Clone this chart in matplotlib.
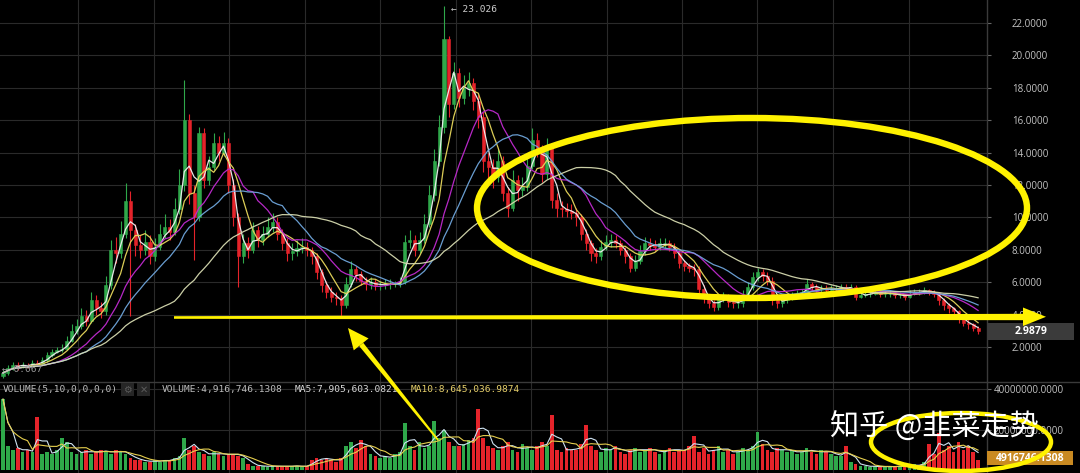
import numpy as np
import pandas as pd
import matplotlib
matplotlib.use("Agg")
import matplotlib.pyplot as plt
from matplotlib.patches import Ellipse, Polygon, Rectangle
from matplotlib.transforms import Affine2D

W, H, DPI = 1080, 473, 100

# ---------------- data ----------------
first_open = 0.2
closes = [0.4, 0.7, 0.9, 0.8, 0.9, 0.85, 1.0, 0.95, 1.2, 1.5,
          1.7, 1.8, 1.9, 2.4, 3.0, 3.3, 3.9, 3.6, 4.9, 4.4,
          4.2, 5.8, 8.0, 7.8, 9.0, 11.0, 9.2, 8.3, 8.0, 8.5,
          7.6, 8.2, 9.0, 9.4, 9.1, 10.5, 12.0, 16.0, 11.5, 10.0,
          15.2, 12.3, 13.1, 14.6, 14.0, 14.6, 12.0, 10.0, 7.6, 8.4,
          8.0, 9.2, 8.6, 9.0, 9.4, 9.7, 9.0, 8.4, 7.8, 7.9,
          8.1, 8.2, 8.0, 7.6, 6.6, 5.8, 5.4, 5.1, 5.0, 4.6,
          5.9, 6.8, 6.5, 6.1, 5.9, 6.0, 5.8, 5.8, 5.9, 5.9,
          5.9, 6.0, 8.5, 8.6, 8.0, 8.6, 9.6, 11.4, 13.5, 15.6,
          21.0, 17.0, 18.9, 17.4, 18.0, 18.3, 17.2, 16.2, 13.5, 13.1,
          12.5, 13.5, 11.5, 10.6, 12.3, 11.7, 11.9, 13.2, 14.8, 14.2,
          12.7, 14.3, 11.1, 10.6, 10.5, 10.4, 10.3, 10.0, 9.0, 8.4,
          7.8, 7.6, 8.2, 8.5, 8.6, 8.4, 8.0, 7.6, 6.9, 7.3,
          7.9, 8.4, 8.3, 8.2, 8.4, 8.4, 8.2, 7.8, 7.2, 7.0,
          6.9, 6.8, 5.6, 5.0, 4.7, 4.5, 5.0, 5.1, 4.8, 4.7,
          4.7, 5.2, 5.7, 6.3, 6.6, 6.4, 6.1, 4.9, 4.7, 4.9,
          5.1, 5.2, 5.3, 5.4, 5.9, 5.7, 5.6, 5.6, 5.5, 5.6,
          5.6, 5.7, 5.6, 5.7, 5.1, 5.2, 5.3, 5.3, 5.4, 5.3,
          5.3, 5.3, 5.2, 5.2, 5.1, 5.3, 5.4, 5.4, 5.5, 5.4,
          5.3, 4.9, 4.6, 4.4, 4.2, 3.7, 3.5, 3.4, 3.2, 2.9879]

highs = [0.6, 0.9, 1.1, 1.1, 1.1, 1.0, 1.2, 1.2, 1.4, 1.7,
         1.9, 2.0, 2.2, 2.7, 3.4, 3.7, 4.4, 4.3, 5.4, 5.2,
         4.8, 6.4, 8.6, 8.8, 9.8, 12.1, 11.6, 9.6, 8.9, 9.2,
         8.9, 8.7, 9.6, 10.2, 9.9, 11.2, 13.0, 18.5, 16.4, 12.0,
         15.6, 15.5, 13.8, 15.2, 15.0, 15.3, 14.9, 12.4, 10.3, 9.0,
         8.8, 9.7, 9.5, 9.5, 10.0, 10.3, 10.0, 9.3, 8.7, 8.4,
         8.6, 8.7, 8.5, 8.2, 7.8, 6.8, 6.1, 5.7, 5.4, 5.2,
         6.3, 7.3, 7.0, 6.7, 6.3, 6.3, 6.2, 6.1, 6.2, 6.2,
         6.1, 6.3, 8.9, 9.2, 8.9, 9.1, 10.2, 12.0, 14.2, 16.3,
         23.026, 21.2, 19.6, 19.2, 18.8, 19.0, 18.6, 17.6, 16.5, 14.0,
         13.6, 14.2, 13.8, 11.9, 12.9, 12.6, 12.5, 13.9, 15.5, 15.2,
         14.5, 14.9, 14.6, 11.5, 11.0, 10.9, 10.8, 10.6, 10.2, 9.3,
         8.6, 8.1, 8.6, 8.9, 9.0, 8.9, 8.6, 8.2, 7.8, 7.7,
         8.3, 8.8, 8.7, 8.6, 8.7, 8.7, 8.6, 8.4, 8.0, 7.4,
         7.2, 7.1, 7.0, 5.8, 5.2, 4.9, 5.3, 5.4, 5.3, 5.0,
         5.0, 5.5, 6.0, 6.6, 6.9, 6.8, 6.6, 6.3, 5.1, 5.1,
         5.3, 5.4, 5.5, 5.6, 6.2, 6.0, 5.9, 5.8, 5.8, 5.8,
         5.8, 5.9, 5.9, 5.9, 5.8, 5.4, 5.5, 5.5, 5.6, 5.5,
         5.5, 5.5, 5.4, 5.4, 5.3, 5.5, 5.6, 5.6, 5.7, 5.6,
         5.5, 5.4, 5.0, 4.7, 4.5, 4.3, 3.8, 3.7, 3.5, 3.3]

lows = [0.067, 0.3, 0.6, 0.6, 0.7, 0.7, 0.8, 0.8, 0.9, 1.1,
        1.4, 1.6, 1.7, 1.8, 2.3, 2.8, 3.1, 3.3, 3.5, 4.0,
        3.8, 4.0, 5.6, 7.2, 7.5, 8.7, 3.9, 7.6, 7.5, 7.7,
        7.1, 7.3, 8.0, 8.7, 8.6, 8.9, 10.2, 11.6, 10.8, 7.4,
        9.8, 11.8, 12.0, 12.9, 13.5, 13.8, 11.5, 9.5, 5.7, 7.2,
        7.5, 7.8, 8.2, 8.3, 8.8, 9.1, 8.6, 8.0, 7.3, 7.4,
        7.6, 7.8, 7.6, 7.1, 6.2, 5.4, 5.0, 4.8, 4.6, 3.9,
        4.4, 5.7, 6.1, 5.8, 5.5, 5.6, 5.5, 5.5, 5.6, 5.6,
        5.7, 5.7, 5.9, 8.1, 7.6, 7.8, 8.4, 9.4, 11.0, 13.2,
        15.2, 16.2, 16.7, 16.8, 17.0, 17.5, 16.6, 15.5, 12.8, 12.4,
        11.8, 12.2, 11.0, 10.0, 10.4, 11.0, 11.3, 11.6, 13.0, 13.7,
        12.2, 12.4, 10.6, 10.0, 10.0, 10.0, 9.9, 9.5, 8.6, 8.0,
        7.3, 7.2, 7.4, 8.0, 8.2, 8.1, 7.7, 7.2, 6.6, 6.7,
        7.1, 7.7, 8.0, 7.9, 8.0, 8.1, 7.9, 7.5, 6.9, 6.7,
        6.6, 6.4, 5.3, 4.7, 4.4, 4.2, 4.3, 4.8, 4.5, 4.4,
        4.4, 4.5, 5.0, 5.5, 6.1, 6.1, 5.8, 4.6, 4.4, 4.5,
        4.7, 4.9, 5.0, 5.1, 5.3, 5.5, 5.4, 5.4, 5.3, 5.3,
        5.4, 5.4, 5.4, 5.4, 4.9, 5.0, 5.1, 5.1, 5.2, 5.1,
        5.1, 5.1, 5.0, 5.0, 4.9, 5.0, 5.2, 5.2, 5.3, 5.2,
        5.1, 4.6, 4.3, 4.1, 3.9, 3.5, 3.3, 3.1, 3.0, 2.8]

volumes_m = [35, 12, 10, 11, 9, 10, 9, 26, 8, 9,
             8, 10, 16, 14, 9, 8, 9, 10, 8, 9,
             10, 9, 8, 10, 9, 8, 6, 5, 5, 4,
             4, 5, 4, 5, 5, 6, 7, 16, 10, 12,
             9, 8, 7, 9, 8, 7, 8, 8, 7, 6,
             3, 2, 2, 2, 1.5, 2, 2, 1.5, 2, 2,
             2, 1.5, 2, 5, 6, 5, 6, 5, 4, 6,
             12, 14, 11, 15, 12, 8, 7, 6, 7, 6,
             8, 9, 23, 12, 10, 14, 11, 12, 24, 16,
             20, 14, 12, 12, 13, 15, 16, 30, 16, 12,
             11, 10, 12, 14, 10, 9, 13, 11, 10, 12,
             14, 12, 27, 10, 9, 11, 10, 10, 13, 22,
             12, 10, 9, 11, 10, 12, 9, 8, 10, 11,
             9, 10, 11, 9, 8, 10, 11, 9, 10, 10,
             12, 17, 9, 11, 8, 10, 12, 9, 10, 8,
             9, 11, 10, 12, 19, 13, 10, 9, 11, 10,
             9, 10, 8, 9, 11, 9, 8, 10, 9, 8,
             7, 7, 12, 4, 3, 2, 2, 1.5, 2, 1.5,
             1.5, 2, 1.5, 2, 2, 2, 3, 2, 4, 13,
             8, 18.5, 10, 12, 9, 14, 10, 12, 9, 4.9167]

price_ticks = [2, 4, 6, 8, 10, 12, 14, 16, 18, 20, 22]
volume_ticks = [20, 40]          # millions
price_ma_windows = [3, 6, 12, 18, 36]
price_ma_colors = ["#f2f2f2", "#e8d85c", "#c02ad0", "#6fa6dc", "#d6dab0"]
vol_ma_windows = [3, 6]
vol_ma_colors = ["#cfe3f2", "#e6cf4e"]

last_price_label = "2.9879"
last_volume_label = "4916746.1308"
legend_texts = ["VOLUME(5,10,0,0,0,0)", "VOLUME:4,916,746.1308",
                "MA5:7,905,603.0821", "MA10:8,645,036.9874"]
max_label = "\u2190 23.026"
min_label = "\u2190 0.067"
watermark = "知乎 @韭菜走势"

# ---------------- derived ----------------
opens = [first_open] + closes[:-1]
n = len(closes)
idx = np.arange(n)
c = np.array(closes); o = np.array(opens)
hi = np.array(highs); lo = np.array(lows)
vol = np.array(volumes_m) * 1e6
up = c >= o

GREEN = "#2fa84a"
RED = "#e5232a"
YEL = "#fff200"
GRID = "#2a2a2a"
LBL = "#c4c4c4"

fig = plt.figure(figsize=(W / DPI, H / DPI), dpi=DPI, facecolor="black")
T = Affine2D().scale(1.0 / W, -1.0 / H).translate(0, 1) + fig.transFigure


def box(x0, y0, x1, y1):
    return [x0 / W, 1 - y1 / H, (x1 - x0) / W, (y1 - y0) / H]


PX0, PSTEP = 3.0, 4.9        # candle pixel position and spacing
AX_RIGHT = 987
xlim = (-PX0 / PSTEP, (AX_RIGHT - PX0) / PSTEP)
grid_x = [(2.5 + 75.5 * k - PX0) / PSTEP for k in range(1, 13)]

ax = fig.add_axes(box(0, 0, AX_RIGHT, 382))
axv = fig.add_axes(box(0, 382, AX_RIGHT, 473))
for a in (ax, axv):
    a.set_facecolor("black")
    for s in ("top", "left", "bottom"):
        a.spines[s].set_visible(False)
    a.spines["right"].set_color("#3a3a3a")
    a.spines["right"].set_linewidth(1.0)
    a.set_xlim(*xlim)
    a.set_xticks(grid_x)
    a.tick_params(axis="x", length=0, labelbottom=False)
    a.grid(True, color=GRID, linewidth=0.8)
    a.set_axisbelow(True)
    a.yaxis.tick_right()

# price panel
ax.set_ylim(-0.16, 23.42)
ax.set_yticks(price_ticks)
ax.set_yticklabels([f"{t:.4f}" for t in price_ticks])
ax.tick_params(axis="y", colors="#666666", length=3, width=0.8, pad=15,
               labelcolor=LBL, labelsize=7)
for t in ax.get_yticklabels():
    t.set_fontfamily("Open Sans")

colors = np.where(up, GREEN, RED)
ax.vlines(idx, lo, hi, colors=colors, linewidth=0.8, zorder=2)
ax.bar(idx, np.abs(c - o), bottom=np.minimum(c, o), width=0.62,
       color=colors, edgecolor=colors, linewidth=0.4, zorder=3)

cs = pd.Series(c)
for w, col in zip(price_ma_windows, price_ma_colors):
    ax.plot(idx, cs.rolling(w, min_periods=1).mean(), color=col,
            linewidth=0.9, zorder=4, alpha=0.95)

# volume panel
axv.set_ylim(-1.5e6, 43.5e6)
axv.set_yticks([v * 1e6 for v in volume_ticks])
axv.set_yticklabels([f"{v * 1e6:.4f}" for v in volume_ticks])
axv.tick_params(axis="y", colors="#666666", length=3, width=0.8, pad=1.5,
                labelcolor=LBL, labelsize=7)
for t in axv.get_yticklabels():
    t.set_fontfamily("Open Sans")
axv.bar(idx, vol, width=0.75, color=colors, linewidth=0, zorder=2)
vs = pd.Series(vol)
for w, col in zip(vol_ma_windows, vol_ma_colors):
    axv.plot(idx, vs.rolling(w, min_periods=1).mean(), color=col,
             linewidth=0.8, zorder=3)

# separator line across figure
fig.add_artist(plt.Line2D([0, W], [382, 382], transform=T, color="#3a3a3a",
                          linewidth=1.0, zorder=1))

# legend texts in volume panel
mono = "DejaVu Sans Mono"
fig.text(3 / W, 1 - 389 / H, legend_texts[0], color="#bdbdbd", fontsize=6.8,
         family=mono, va="center", ha="left", zorder=5)
for x0, sym in ((121, "\u2699"), (137, "\u2715")):
    fig.add_artist(Rectangle((x0, 383), 13, 13, transform=T, facecolor="#262626",
                             edgecolor="none", zorder=5))
    fig.text((x0 + 6.5) / W, 1 - 389.5 / H, sym, color="#5a5a5a", fontsize=7,
             family="DejaVu Sans", ha="center", va="center", zorder=6)
fig.text(162 / W, 1 - 389 / H, legend_texts[1], color="#bdbdbd", fontsize=6.8,
         family=mono, va="center", ha="left", zorder=5)
fig.text(295 / W, 1 - 389 / H, legend_texts[2], color="#d8d8d8", fontsize=6.8,
         family=mono, va="center", ha="left", zorder=5)
fig.text(411 / W, 1 - 389 / H, legend_texts[3], color="#e6cf6a", fontsize=6.8,
         family=mono, va="center", ha="left", zorder=5)

# max / min labels
fig.text(451 / W, 1 - 10 / H, max_label, color="#cfcfcf", fontsize=6.8,
         family=mono, va="center", ha="left", zorder=5)
fig.text(2 / W, 1 - 369 / H, min_label, color="#9a9a9a", fontsize=6.8,
         family=mono, va="center", ha="left", zorder=5)

# current price / volume boxes
fig.add_artist(Rectangle((987, 323), 87, 17, transform=T, facecolor="#3b3b3b",
                         edgecolor="none", zorder=5))
fig.text(1031 / W, 1 - 331.5 / H, last_price_label, color="white", fontsize=7.5,
         fontweight="bold", family="Open Sans", ha="center", va="center", zorder=6)
fig.add_artist(Rectangle((987, 451), 86, 14, transform=T, facecolor="#c98a22",
                         edgecolor="none", zorder=5))
fig.text(1030 / W, 1 - 458 / H, last_volume_label, color="white", fontsize=7.5,
         fontweight="bold", family="Open Sans", ha="center", va="center", zorder=6)

# ---------------- yellow hand-drawn marks ----------------
fig.add_artist(Ellipse((752, 208), 550, 180, transform=T, fill=False,
                       edgecolor=YEL, linewidth=4.6, zorder=7))
# horizontal tapered line with arrow head
fig.add_artist(Polygon([(174, 316.2), (1026, 313.8), (1026, 320.2), (174, 318.8)],
                       closed=True, transform=T, facecolor=YEL, edgecolor="none",
                       zorder=7))
fig.add_artist(Polygon([(1023, 307.5), (1046, 316.8), (1023, 326)], closed=True,
                       transform=T, facecolor=YEL, edgecolor="none", zorder=7))
# diagonal arrow
tail = np.array([438.0, 440.0]); tip = np.array([348.0, 328.0])
d = tip - tail; L = np.hypot(*d); u = d / L; nrm = np.array([-u[1], u[0]])
base = tip - u * 21
shaft = [tail + nrm * 0.9, base + nrm * 2.6, base - nrm * 2.6, tail - nrm * 0.9]
fig.add_artist(Polygon(shaft, closed=True, transform=T, facecolor=YEL,
                       edgecolor="none", zorder=7))
head = [tip, base + nrm * 9.5, base - nrm * 9.5]
fig.add_artist(Polygon(head, closed=True, transform=T, facecolor=YEL,
                       edgecolor="none", zorder=7))
# small ellipse bottom right
fig.add_artist(Ellipse((961, 442), 180, 58, transform=T, fill=False,
                       edgecolor=YEL, linewidth=3.2, zorder=7))

# watermark
fig.text(934 / W, 1 - 428 / H, watermark, color="white", fontsize=21,
         family=["Noto Sans CJK SC", "DejaVu Sans"], ha="center", va="center",
         zorder=8)

fig.savefig("out.png", dpi=DPI, facecolor="black")
